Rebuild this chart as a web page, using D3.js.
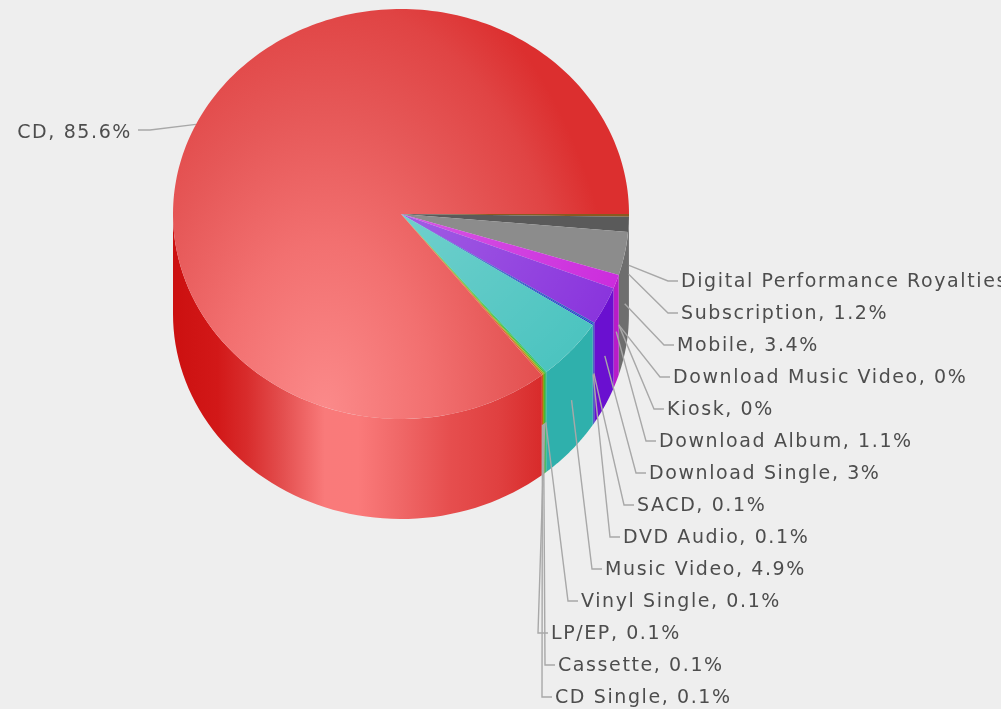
<!DOCTYPE html>
<html>
<head>
<meta charset="utf-8">
<script src="https://cdn.jsdelivr.net/npm/d3@7"></script>
<style>
html, body { margin: 0; padding: 0; background: #fff; overflow: hidden; }
svg { display: block; background: #eeeeee; }
text { font-family: "DejaVu Sans", Verdana, sans-serif; font-size: 19px; letter-spacing: 1.6px; fill: #4d4d4d; }
</style>
</head>
<body>
<script>
// values, clockwise from 3 o'clock
var categories = ["Digital Performance Royalties", "Subscription", "Mobile", "Download Music Video", "Kiosk",
	"Download Album", "Download Single", "SACD", "DVD Audio", "Music Video", "Vinyl Single", "LP/EP",
	"Cassette", "CD Single", "CD"];
var shares = [0.2, 1.2, 3.4, 0, 0, 1.1, 3, 0.1, 0.1, 4.9, 0.1, 0.1, 0.1, 0.1, 85.6];

var topColors = ["#8a5a20", "#5a5a5a", "#8c8c8c", "#777777", "#777777", "#cc2ddd", "#8a35dd", "#2a60c0", "#2030d0",
	"#4cc4c0", "#30c070", "#40c030", "#a0b020", "#d07020", "url(#topRed)"];
var wallColors = ["#6a4a20", "#6a6a6a", "#6e6e6e", "#666666", "#666666", "#b81cc8", "#6a10d0", "#2050b0", "#1828c0",
	"#2fb0ac", "#20b060", "#30b020", "#90a018", "#c06018", "url(#wallRed)"];

// left edge of each right hand label, top to bottom
var labelLeft = [681, 681, 677, 673, 667, 659, 649, 637, 623, 605, 581, 551, 558, 555];

var width = 1001, height = 709;
var cx = 401, cy = 214, rx = 228, ry = 205, depth = 100;

var svg = d3.select("body").append("svg")
	.attr("width", width)
	.attr("height", height);

var defs = svg.append("defs");

var topRed = defs.append("radialGradient")
	.attr("id", "topRed")
	.attr("gradientUnits", "userSpaceOnUse")
	.attr("cx", 0).attr("cy", 0).attr("r", 300)
	.attr("gradientTransform", "translate(325,410) scale(1,1.6)");
[[0, "#fb8a8a"], [0.35, "#f27070"], [0.62, "#e65858"], [0.85, "#e04444"], [1, "#dc2f2f"]].forEach(function(s) {
	topRed.append("stop").attr("offset", s[0]).attr("stop-color", s[1]);
});

var wallRed = defs.append("linearGradient")
	.attr("id", "wallRed")
	.attr("gradientUnits", "userSpaceOnUse")
	.attr("x1", 173).attr("x2", 543).attr("y1", 0).attr("y2", 0);
[[0, "#cc1010"], [0.12, "#d21818"], [0.2, "#d82c2c"], [0.3, "#e45050"], [0.41, "#f97a7a"], [0.5, "#fa7a7a"],
	[0.61, "#f06868"], [0.75, "#e64e4e"], [0.88, "#e04040"], [1, "#d82a2a"]].forEach(function(s) {
	wallRed.append("stop").attr("offset", s[0]).attr("stop-color", s[1]);
});

var sheen = defs.append("radialGradient")
	.attr("id", "sheen")
	.attr("cx", 0).attr("cy", 0).attr("r", 1)
	.attr("gradientUnits", "userSpaceOnUse");
sheen.append("stop").attr("offset", 0).attr("stop-color", "#fff").attr("stop-opacity", 0.2);
sheen.append("stop").attr("offset", 1).attr("stop-color", "#fff").attr("stop-opacity", 0);

var pie = d3.pie().sort(null).startAngle(Math.PI / 2).endAngle(Math.PI * 2.5);
var slices = pie(shares);

function rimX(a) { return cx + rx * Math.sin(a); }
function rimY(a) { return cy - ry * Math.cos(a); }

var chart = svg.append("g").style("filter", "blur(0.5px)");

// side walls, only the front half of the cylinder shows
var wall = d3.area()
	.x(function(a) { return rimX(a); })
	.y0(function(a) { return rimY(a); })
	.y1(function(a) { return rimY(a) + depth; });

chart.append("g").selectAll("path")
	.data(slices.filter(function(d) { return d.value > 0; }))
	.enter().append("path")
	.attr("d", function(d) {
		var a0 = Math.max(d.startAngle, Math.PI / 2);
		var a1 = Math.min(d.endAngle, Math.PI * 1.5);
		var n = 60;
		return wall(d3.range(n + 1).map(function(i) { return a0 + (a1 - a0) * i / n; }));
	})
	.attr("fill", function(d) { return wallColors[d.index]; });

// top face
var arc = d3.arc().innerRadius(0).outerRadius(1);
var face = chart.append("g")
	.attr("transform", "translate(" + cx + "," + cy + ") scale(" + rx + "," + ry + ")");

// the red gradient is in page units, so the big slice goes in its own unscaled path
chart.selectAll("path.cd")
	.data(slices.filter(function(d) { return categories[d.index] == "CD"; }))
	.enter().append("path")
	.attr("class", "cd")
	.attr("d", function(d) {
		var n = 240;
		var pts = d3.range(n + 1).map(function(i) {
			var a = d.startAngle + (d.endAngle - d.startAngle) * i / n;
			return [rimX(a), rimY(a)];
		});
		pts.push([cx, cy]);
		return d3.line()(pts) + "Z";
	})
	.attr("fill", function(d) { return topColors[d.index]; });

face.selectAll("path.small")
	.data(slices.filter(function(d) { return d.value > 0 && categories[d.index] != "CD"; }))
	.enter().append("path")
	.attr("class", "small")
	.attr("d", arc)
	.attr("fill", function(d) { return topColors[d.index]; });

face.selectAll("path.sheen")
	.data(slices.filter(function(d) { return d.value > 1 && categories[d.index] != "CD" && d.index > 4; }))
	.enter().append("path")
	.attr("class", "sheen")
	.attr("d", arc)
	.attr("fill", "url(#sheen)");

// leaders and labels
var rowY = d3.scaleLinear().domain([0, 13]).range([281, 697]);
var leader = d3.line();
var labels = svg.append("g").style("filter", "blur(0.45px)");

slices.forEach(function(d, i) {
	var mid = (d.startAngle + d.endAngle) / 2;
	var name = categories[i] + ", " + d.value + "%";
	var x0 = rimX(mid), y0 = rimY(mid);
	var pts, tx, ty, anchor;
	if (categories[i] == "CD") {
		tx = 132; ty = 132; anchor = "end";
		pts = [[x0, y0], [150, 130], [138, 130]];
	} else {
		tx = labelLeft[i]; ty = rowY(i); anchor = "start";
		pts = [[x0, y0 + depth / 2], [tx - 13, ty], [tx - 3, ty]];
	}
	labels.append("path")
		.attr("d", leader(pts))
		.attr("fill", "none")
		.attr("stroke", "#a8a8a8")
		.attr("stroke-width", 1.4);
	labels.append("text")
		.attr("x", tx)
		.attr("y", ty)
		.attr("dy", "0.32em")
		.attr("text-anchor", anchor)
		.text(name);
});
</script>
</body>
</html>
